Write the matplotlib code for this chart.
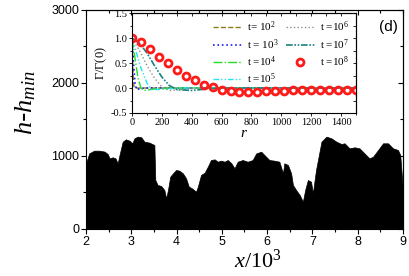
import matplotlib
matplotlib.use("Agg")
import matplotlib.pyplot as plt
from matplotlib.ticker import MultipleLocator

plt.rcParams['mathtext.fontset'] = 'custom'
plt.rcParams['mathtext.it'] = 'Liberation Serif:italic'
plt.rcParams['mathtext.rm'] = 'Liberation Serif'
plt.rcParams['mathtext.bf'] = 'Liberation Serif:bold'

# perfil h - h_min
x_perfil = [2.00, 2.07, 2.18, 2.29, 2.41, 2.48, 2.52, 2.59, 2.65, 2.70, 2.74, 2.81, 2.88, 2.96,
            3.02, 3.07, 3.14, 3.22, 3.29, 3.40, 3.51, 3.53, 3.58, 3.66, 3.73, 3.77, 3.81, 3.86,
            3.92, 3.99, 4.06, 4.14, 4.21, 4.27, 4.34, 4.43, 4.47, 4.54, 4.62, 4.69, 4.76, 4.84,
            4.91, 4.98, 5.06, 5.13, 5.21, 5.28, 5.35, 5.46, 5.57, 5.68, 5.76, 5.87, 5.94, 6.05,
            6.16, 6.27, 6.35, 6.38, 6.46, 6.53, 6.57, 6.64, 6.72, 6.79, 6.84, 6.90, 6.97, 7.01,
            7.08, 7.20, 7.31, 7.42, 7.53, 7.64, 7.71, 7.82, 7.93, 8.04, 8.15, 8.26, 8.34, 8.45,
            8.56, 8.67, 8.78, 8.89, 8.94, 9.00]
h_perfil = [900, 1036, 1073, 1073, 1060, 1027, 968, 982, 968, 900, 1014, 1196, 1228, 1210,
            1174, 1242, 1265, 1256, 1196, 1183, 1150, 671, 603, 589, 534, 420, 534, 717,
            762, 808, 799, 762, 694, 580, 557, 511, 580, 740, 772, 854, 945, 954,
            922, 936, 922, 945, 900, 831, 922, 945, 922, 945, 1036, 1059, 1014, 945,
            936, 922, 762, 900, 877, 762, 603, 534, 466, 374, 534, 671, 648, 489,
            808, 1196, 1265, 1242, 1196, 1164, 1174, 1105, 1119, 1105, 1036, 968, 991, 1082,
            1174, 1174, 1105, 1082, 1014, 534]

# correlaciones Gamma/Gamma(0)
r_1e2 = [0, 5, 10, 15, 1500]
g_1e2 = [1.0, 0.5, 0.1, 0.0, 0.0]
r_1e3 = [0, 10, 20, 30, 80, 1500]
g_1e3 = [1.0, 0.5, 0.1, -0.03, 0.0, 0.0]
r_1e4 = [0, 20, 40, 60, 80, 150, 250, 1500]
g_1e4 = [1.0, 0.6, 0.2, 0.0, -0.05, -0.02, 0.0, 0.0]
r_1e5 = [0, 30, 60, 100, 130, 200, 300, 1500]
g_1e5 = [1.0, 0.7, 0.4, 0.1, -0.03, -0.03, 0.0, 0.0]
r_1e6 = [0, 50, 100, 150, 200, 250, 300, 400, 1500]
g_1e6 = [1.0, 0.75, 0.45, 0.2, 0.02, -0.05, -0.04, -0.01, 0.0]
r_1e7 = [0, 50, 100, 150, 200, 250, 300, 400, 500, 600, 1500]
g_1e7 = [1.0, 0.9, 0.7, 0.45, 0.22, 0.05, -0.03, -0.05, -0.02, 0.0, 0.0]
r_1e8 = [0, 60, 120, 180, 240, 300, 360, 420, 480, 540, 600, 660, 720, 780, 840, 900,
         960, 1020, 1080, 1140, 1200, 1260, 1320, 1380, 1440, 1500]
g_1e8 = [1.0, 0.92, 0.78, 0.63, 0.50, 0.36, 0.25, 0.16, 0.07, 0.02, -0.03, -0.06, -0.07,
         -0.07, -0.07, -0.06, -0.06, -0.05, -0.04, -0.03, -0.03, -0.03, -0.03, -0.03, -0.03, -0.03]

serif = ['Liberation Serif', 'DejaVu Serif']
sans = ['Liberation Sans', 'DejaVu Sans']

fig = plt.figure(figsize=(4.1, 2.76), dpi=100)
ax = fig.add_axes([0.2098, 0.1703, 0.773, 0.7935])
ax.fill_between(x_perfil, 0, h_perfil, color='black', linewidth=0.5)
ax.set_xlim(2, 9)
ax.set_ylim(0, 3000)
ax.xaxis.set_major_locator(MultipleLocator(1))
ax.xaxis.set_minor_locator(MultipleLocator(0.5))
ax.yaxis.set_major_locator(MultipleLocator(1000))
ax.yaxis.set_minor_locator(MultipleLocator(500))
ax.tick_params(which='both', direction='out', top=False, right=False, width=0.8)
ax.tick_params(which='major', length=3.5)
ax.tick_params(which='minor', length=2)
for lab in ax.get_xticklabels() + ax.get_yticklabels():
    lab.set_family(sans)
    lab.set_fontsize(9)
ax.tick_params(axis='both', pad=1.5)
sec_x = ax.secondary_xaxis('top')
sec_x.xaxis.set_major_locator(MultipleLocator(1))
sec_x.xaxis.set_minor_locator(MultipleLocator(0.5))
sec_x.tick_params(which='both', direction='in', labeltop=False, width=0.8)
sec_y = ax.secondary_yaxis('right')
sec_y.yaxis.set_major_locator(MultipleLocator(1000))
sec_y.yaxis.set_minor_locator(MultipleLocator(500))
sec_y.tick_params(which='both', direction='in', labelright=False, width=0.8)
ax.set_xlabel(r'$x/10^3$', fontsize=16)
ax.set_ylabel(r'$h$-$h_{min}$', fontsize=19)
ax.xaxis.set_label_coords(0.543, -0.088)
ax.yaxis.set_label_coords(-0.15, 0.575)
ax.text(0.985, 0.955, '(d)', transform=ax.transAxes, ha='right', va='top',
        fontsize=11, family=sans)

ins = fig.add_axes([0.322, 0.5906, 0.546, 0.362])
ins.plot(r_1e2, g_1e2, color='#8b7d1a', linestyle='--', linewidth=1, label=r't= 10$^2$')
ins.plot(r_1e3, g_1e3, color='#1a1aff', linestyle=':', linewidth=1.2, label=r't = 10$^3$')
ins.plot(r_1e4, g_1e4, color='#22dd22', linestyle='-.', linewidth=1, label=r't =10$^4$')
ins.plot(r_1e5, g_1e5, color='#22e5ee', linestyle=(0, (4, 1.5, 1, 1.5, 1, 1.5)), linewidth=1,
         label=r't =10$^5$')
ins.plot(r_1e6, g_1e6, color='#909090', linestyle=':', linewidth=1, label=r't =10$^6$')
ins.plot(r_1e7, g_1e7, color='#1a8080', linestyle=(0, (4, 1, 1, 1, 1, 1)), linewidth=1.2,
         label=r't =10$^7$')
ins.plot(r_1e8, g_1e8, linestyle='none', marker='o', markersize=5, markerfacecolor='none',
         markeredgecolor='#ff1a1a', markeredgewidth=2, label=r't =10$^8$')
ins.set_xlim(0, 1500)
ins.set_ylim(-0.5, 1.5)
ins.xaxis.set_major_locator(MultipleLocator(200))
ins.xaxis.set_minor_locator(MultipleLocator(100))
ins.yaxis.set_major_locator(MultipleLocator(0.5))
ins.yaxis.set_minor_locator(MultipleLocator(0.25))
ins.tick_params(which='both', direction='out', width=0.6, pad=1)
ins.tick_params(which='major', length=2.5)
ins.tick_params(which='minor', length=1.5)
ins.yaxis.set_major_formatter(plt.FuncFormatter(lambda v, p: f'{v:.1f}'))
for lab in ins.get_xticklabels() + ins.get_yticklabels():
    lab.set_family(serif)
    lab.set_fontsize(7.5)
it = ins.secondary_xaxis('top')
it.xaxis.set_major_locator(MultipleLocator(200))
it.xaxis.set_minor_locator(MultipleLocator(100))
it.tick_params(which='both', direction='in', labeltop=False, width=0.6, length=2)
ir = ins.secondary_yaxis('right')
ir.yaxis.set_major_locator(MultipleLocator(0.5))
ir.yaxis.set_minor_locator(MultipleLocator(0.25))
ir.tick_params(which='both', direction='in', labelright=False, width=0.6, length=2)
ins.set_xlabel(r'$r$', fontsize=11, labelpad=-1)
ins.set_ylabel(r'$\Gamma/\Gamma(0)$', fontsize=9, labelpad=1)
leg = ins.legend(ncol=2, frameon=False, loc='upper right',
                 prop={'family': serif, 'size': 8}, handlelength=2.6,
                 columnspacing=0.6, labelspacing=0.25, borderaxespad=0.2, handletextpad=0.5)

fig.savefig('out.png', dpi=100)
